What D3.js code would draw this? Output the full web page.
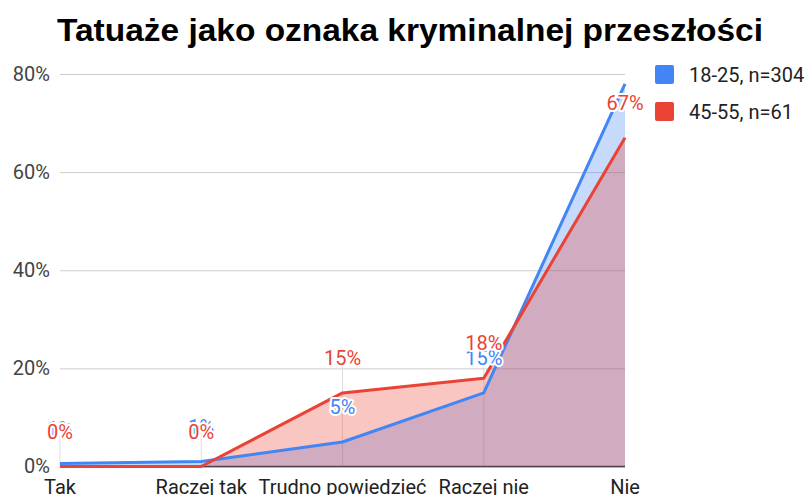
<!DOCTYPE html>
<html>
<head>
<meta charset="utf-8">
<script src="https://cdn.jsdelivr.net/npm/d3@7"></script>
<style>
  body { margin: 0; background: #fff; }
  svg { display: block; font-family: Roboto, Arial, sans-serif; }
</style>
</head>
<body>
<svg id="chart" width="809" height="495"></svg>
<script>
// dane
const categories = ['Tak', 'Raczej tak', 'Trudno powiedzieć', 'Raczej nie', 'Nie']
const young = [0.6, 1, 5, 15, 78]   // 18-25, n=304
const older = [0, 0, 15, 18, 67]    // 45-55, n=61
const yTicks = [0, 20, 40, 60, 80]
const seriesNames = ['18-25, n=304', '45-55, n=61']
const colors = ['#4285F4', '#EA4335']

const svg = d3.select('#chart')

let x = d3.scalePoint().domain(categories).range([60, 625])
let y = d3.scaleLinear().domain([0, 80]).range([466.5, 74])

// tytuł
svg.append('text')
  .attr('x', 57).attr('y', 41)
  .attr('textLength', 706).attr('lengthAdjust', 'spacingAndGlyphs')
  .style('font-family', '"Liberation Sans", Arial, sans-serif')
  .style('font-weight', 'bold').style('font-size', '32px').style('fill', '#000')
  .text('Tatuaże jako oznaka kryminalnej przeszłości')

// siatka + oś Y
let yAxis = d3.axisLeft(y).tickValues(yTicks).tickSize(-(625 - 60)).tickPadding(10)
  .tickFormat(d => d + '%')
let gy = svg.append('g').attr('transform', 'translate(60,0)').call(yAxis)
gy.select('.domain').remove()
gy.selectAll('line').attr('stroke', '#cccccc')
gy.selectAll('text').style('font-size', '20px').style('fill', '#444').style('font-family', 'Roboto, Arial, sans-serif')

// linie pomocnicze pod etykietami
svg.append('g').selectAll('line')
  .data(categories.slice(0, 4))
  .enter().append('line')
  .attr('x1', d => x(d)).attr('x2', d => x(d))
  .attr('y1', (d, i) => y(Math.max(young[i], older[i])) - 28)
  .attr('y2', y(0))
  .attr('stroke', '#dddddd').attr('stroke-width', 1)

// linia bazowa
svg.append('line')
  .attr('x1', 60).attr('x2', 625).attr('y1', y(0)).attr('y2', y(0))
  .attr('stroke', '#333').attr('stroke-width', 1.5)

let area = d3.area().x((d, i) => x(categories[i])).y0(y(0)).y1(d => y(d))
let line = d3.line().x((d, i) => x(categories[i])).y(d => y(d))
let series = [young, older]

svg.append('g').selectAll('path')
  .data(series)
  .enter().append('path')
  .attr('d', d => area(d))
  .attr('fill', (d, i) => colors[i]).attr('fill-opacity', 0.3)

svg.append('g').selectAll('path')
  .data(series)
  .enter().append('path')
  .attr('d', d => line(d))
  .attr('fill', 'none')
  .attr('stroke', (d, i) => colors[i]).attr('stroke-width', 3)
  .attr('stroke-linejoin', 'round')

// osie X
svg.append('g').selectAll('text')
  .data(categories)
  .enter().append('text')
  .attr('x', d => x(d)).attr('y', 494)
  .attr('text-anchor', 'middle')
  .style('font-size', '20px').style('fill', '#222')
  .text(d => d)

// etykiety danych (bez ostatniej niebieskiej – nie mieści się)
series.forEach((s, si) => {
  let pts = s.map((v, i) => ({ v, c: categories[i] }))
  if (si === 0) pts = pts.slice(0, 4)
  let g = svg.append('g')
  g.selectAll('text')
    .data(pts)
    .enter().append('text')
    .attr('x', d => x(d.c)).attr('y', d => y(d.v) - 28)
    .attr('text-anchor', 'middle')
    .style('font-size', '20px')
    .style('fill', colors[si])
    .style('stroke', '#fff').style('stroke-width', 4).style('paint-order', 'stroke')
    .style('stroke-linejoin', 'round')
    .text(d => Math.round(d.v) + '%')
})

// legenda
let legend = svg.append('g').selectAll('g')
  .data(seriesNames)
  .enter().append('g')
  .attr('transform', (d, i) => `translate(655,${65 + i * 37})`)
legend.append('rect')
  .attr('width', 19).attr('height', 19).attr('rx', 2)
  .attr('fill', (d, i) => colors[i])
legend.append('text')
  .attr('x', 34).attr('y', 16.5)
  .style('font-size', '20px').style('fill', '#222')
  .text(d => d)
</script>
</body>
</html>
